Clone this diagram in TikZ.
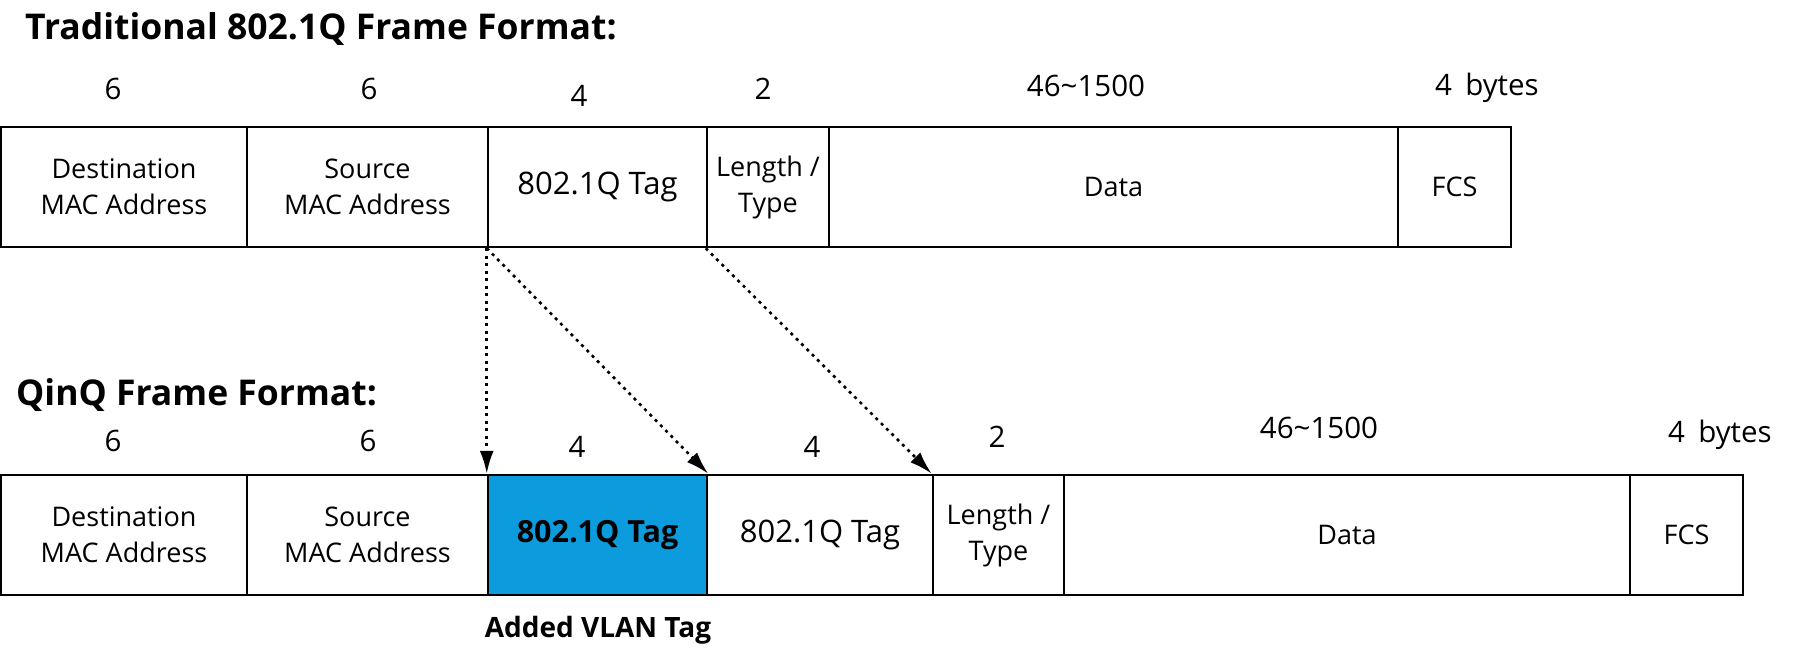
\documentclass[tikz,border=0pt]{standalone}
\usepackage{fontspec}
\setmainfont{Open Sans}
\usetikzlibrary{arrows.meta}
\definecolor{tagblue}{RGB}{12,155,221}
\tikzset{
  cell/.style={draw=black, line width=2.5pt, minimum height=120pt, inner sep=0pt, align=center,
    font=\fontsize{27}{36}\selectfont},
  tagtext/.style={font=\fontsize{31}{36}\selectfont},
  num/.style={anchor=base, inner sep=0pt, font=\fontsize{29.5}{32}\selectfont},
  ttl/.style={anchor=base west, inner sep=0pt, font=\fontsize{35.5}{40}\selectfont\bfseries},
  dotarrow/.style={line width=2.6pt, dash pattern=on 3pt off 4.5pt, -{Latex[length=23pt,width=14pt]}}
}
\begin{document}
\begin{tikzpicture}[x=1pt,y=-1pt]
\useasboundingbox (0,0) rectangle (1800,655);
% titles
\node[ttl] (title1) at (25,40) {Traditional 802.1Q Frame Format:};
\node[ttl] (title2) at (16,405) {QinQ Frame Format:};
% top row
\node[cell, minimum width=246pt] (t1) at (124,187) {Destination\\MAC Address};
\node[cell, minimum width=241pt] (t2) at (367.5,187) {Source\\MAC Address};
\node[cell, tagtext, minimum width=219pt] (t3) at (597.5,187) {802.1Q Tag};
\node[cell, minimum width=122pt] (t4) at (768,187) {Length /\\Type};
\node[cell, minimum width=569pt] (t5) at (1113.5,187) {Data};
\node[cell, minimum width=113pt] (t6) at (1454.5,187) {FCS};
% top numbers
\node[num] (n1) at (113,100) {6};
\node[num] (n2) at (369,100) {6};
\node[num] (n3) at (579,107) {4};
\node[num] (n4) at (763,100) {2};
\node[num] (n5) at (1086,97) {46\textasciitilde 1500};
\node[num, anchor=base west] (n6) at (1435,96) {4\hspace{0.45em}bytes};
% bottom row
\node[cell, minimum width=246pt] (b1) at (124,535) {Destination\\MAC Address};
\node[cell, minimum width=241pt] (b2) at (367.5,535) {Source\\MAC Address};
\node[cell, minimum width=219pt, fill=tagblue, font=\fontsize{30.5}{36}\selectfont\bfseries] (b3) at (597.5,535) {802.1Q Tag};
\node[cell, tagtext, minimum width=226pt] (b4) at (820,535) {802.1Q Tag};
\node[cell, minimum width=131pt] (b5) at (998.5,535) {Length /\\Type};
\node[cell, minimum width=566pt] (b6) at (1347,535) {Data};
\node[cell, minimum width=113pt] (b7) at (1686.5,535) {FCS};
% bottom numbers
\node[num] (m1) at (113,451) {6};
\node[num] (m2) at (368,451) {6};
\node[num] (m3) at (577,457) {4};
\node[num] (m4) at (812,457) {4};
\node[num] (m5) at (997,447) {2};
\node[num] (m6) at (1319,438) {46\textasciitilde 1500};
\node[num, anchor=base west] (m7) at (1668,442) {4\hspace{0.45em}bytes};
% label
\node[anchor=base, inner sep=0pt, font=\fontsize{28}{32}\selectfont\bfseries] (added) at (598,637) {Added VLAN Tag};
% arrows
\draw[dotarrow] (t3.south west) -- (b3.north west);
\draw[dotarrow] (t3.south west) -- (b3.north east);
\draw[dotarrow] (t4.south west) -- (b5.north west);
\end{tikzpicture}
\end{document}
